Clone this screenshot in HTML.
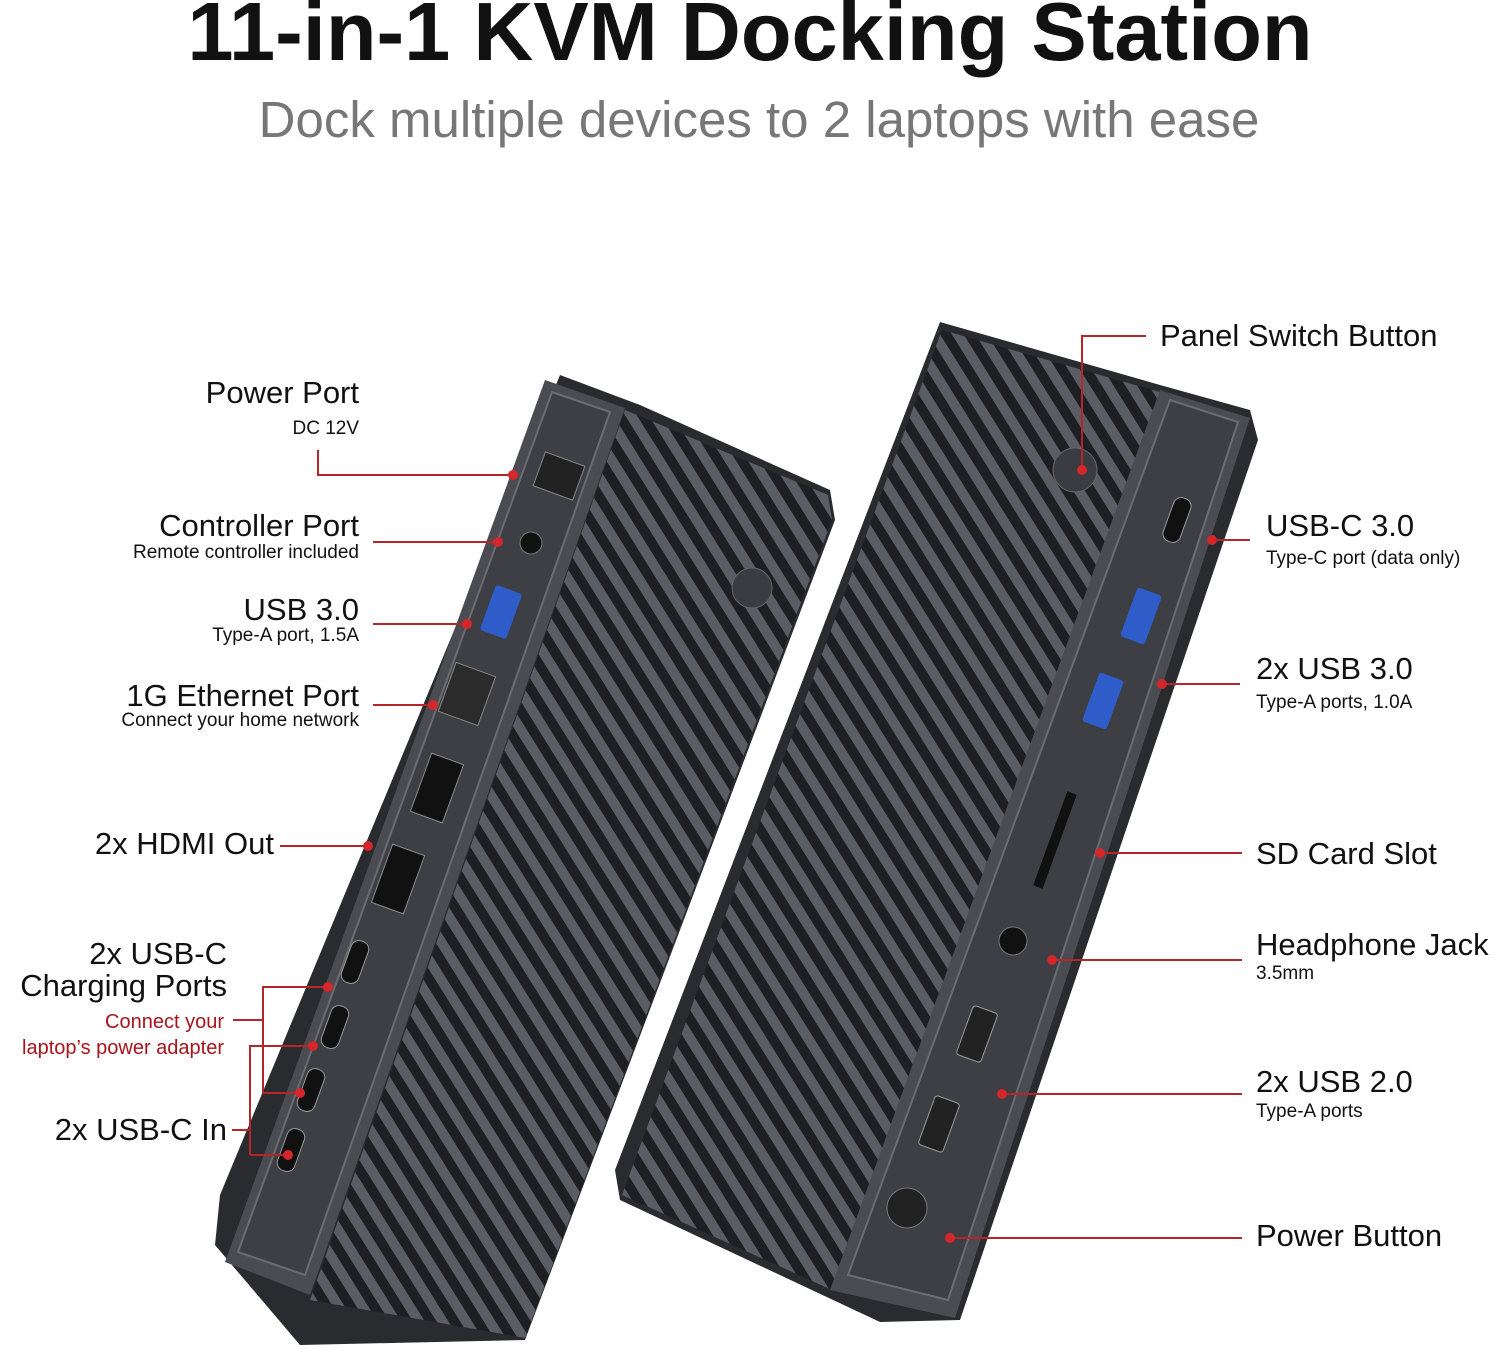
<!DOCTYPE html>
<html><head><meta charset="utf-8"><style>
html,body{margin:0;padding:0;background:#fff;}
body{width:1500px;height:1349px;position:relative;overflow:hidden;font-family:"Liberation Sans",sans-serif;}
.t{position:absolute;white-space:nowrap;color:#111;}
.L{font-size:31px;}
.s{font-size:19px;}
.r{text-align:right;}
</style></head><body>
<svg width="1500" height="1349" style="position:absolute;left:0;top:0">
<defs>
<pattern id="g" patternUnits="userSpaceOnUse" width="20" height="20" patternTransform="rotate(-32)">
<rect width="20" height="20" fill="#5a5d64"/><rect width="10" height="20" fill="#1e1f23"/>
</pattern>
</defs>
<!-- left device -->
<polygon points="560,375 640,405 830,490 835,520 525,1340 300,1345 215,1245 220,1195" fill="#2a2b2f"/>
<polygon points="625,410 828,495 832,520 525,1338 310,1300" fill="url(#g)"/>
<polygon points="545,380 625,408 310,1295 225,1262" fill="#4a4c52"/>
<polygon points="552,392 610,412 305,1275 238,1252" fill="#3d3f44" stroke="#6a6c72" stroke-width="2"/>
<rect x="538" y="458" width="42" height="36" fill="#222" stroke="#888" transform="rotate(20 559 476)"/>
<circle cx="531" cy="543" r="11" fill="#111" stroke="#777"/>
<rect x="487" y="588" width="28" height="48" rx="3" fill="#2e5cc8" transform="rotate(20 501 612)"/>
<rect x="446" y="668" width="42" height="52" fill="#2b2b2b" stroke="#888" transform="rotate(20 467 694)"/>
<rect x="420" y="757" width="34" height="62" fill="#111" stroke="#888" transform="rotate(20 437 788)"/>
<rect x="381" y="848" width="34" height="62" fill="#111" stroke="#888" transform="rotate(20 398 879)"/>
<rect x="346" y="940" width="18" height="44" rx="8" fill="#111" stroke="#999" transform="rotate(20 355 962)"/>
<rect x="326" y="1005" width="18" height="44" rx="8" fill="#111" stroke="#999" transform="rotate(20 335 1027)"/>
<rect x="302" y="1068" width="18" height="44" rx="8" fill="#111" stroke="#999" transform="rotate(20 311 1090)"/>
<rect x="282" y="1128" width="18" height="44" rx="8" fill="#111" stroke="#999" transform="rotate(20 291 1150)"/>
<circle cx="752" cy="588" r="20" fill="#3a3c41" stroke="#666"/>
<!-- right device -->
<polygon points="940,322 1160,385 1250,410 1258,440 960,1320 880,1322 620,1200 615,1170" fill="#2a2b2f"/>
<polygon points="942,330 1160,392 832,1290 622,1195" fill="url(#g)"/>
<polygon points="1160,390 1250,418 955,1318 830,1290" fill="#4a4c52"/>
<polygon points="1170,400 1238,422 948,1300 848,1275" fill="#3d3f44" stroke="#6a6c72" stroke-width="2"/>
<circle cx="1075" cy="470" r="22" fill="#3a3c41" stroke="#666"/>
<rect x="1168" y="497" width="18" height="46" rx="8" fill="#111" stroke="#999" transform="rotate(20 1177 520)"/>
<rect x="1128" y="590" width="26" height="52" rx="3" fill="#2e5cc8" transform="rotate(20 1141 616)"/>
<rect x="1090" y="675" width="26" height="52" rx="3" fill="#2e5cc8" transform="rotate(20 1103 701)"/>
<rect x="1050" y="790" width="10" height="100" fill="#111" transform="rotate(20 1055 840)"/>
<circle cx="1013" cy="941" r="14" fill="#111" stroke="#777"/>
<rect x="964" y="1008" width="26" height="52" rx="3" fill="#222" stroke="#999" transform="rotate(20 977 1034)"/>
<rect x="926" y="1098" width="26" height="52" rx="3" fill="#222" stroke="#999" transform="rotate(20 939 1124)"/>
<circle cx="907" cy="1208" r="20" fill="#222" stroke="#777"/>
<!-- leader lines -->
<g stroke="#b3262b" stroke-width="2" fill="none">
<polyline points="318,450 318,475 513,475"/>
<line x1="373" y1="542" x2="498" y2="542"/>
<line x1="373" y1="624" x2="467" y2="624"/>
<line x1="373" y1="705" x2="433" y2="705"/>
<line x1="280" y1="846" x2="368" y2="846"/>
<polyline points="263,1093 263,987 328,987"/>
<polyline points="233,1020 263,1020"/>
<polyline points="250,1155 250,1046 313,1046"/>
<polyline points="263,1093 300,1093"/>
<line x1="232" y1="1130" x2="250" y2="1130"/>
<line x1="250" y1="1155" x2="288" y2="1155"/>
<polyline points="1146,336 1082,336 1082,470"/>
<line x1="1212" y1="540" x2="1250" y2="540"/>
<line x1="1162" y1="684" x2="1240" y2="684"/>
<line x1="1100" y1="853" x2="1242" y2="853"/>
<line x1="1052" y1="960" x2="1242" y2="960"/>
<line x1="1002" y1="1094" x2="1242" y2="1094"/>
<line x1="950" y1="1238" x2="1242" y2="1238"/>
</g>
<g fill="#d4262b">
<circle cx="513" cy="475" r="5"/><circle cx="498" cy="542" r="5"/><circle cx="467" cy="624" r="5"/>
<circle cx="433" cy="705" r="5"/><circle cx="368" cy="846" r="5"/><circle cx="328" cy="987" r="5"/>
<circle cx="313" cy="1046" r="5"/><circle cx="300" cy="1093" r="5"/><circle cx="288" cy="1155" r="5"/>
<circle cx="1082" cy="470" r="5"/><circle cx="1212" cy="540" r="5"/><circle cx="1162" cy="684" r="5"/>
<circle cx="1100" cy="853" r="5"/><circle cx="1052" cy="960" r="5"/><circle cx="1002" cy="1094" r="5"/>
<circle cx="950" cy="1238" r="5"/>
</g>
</svg>
<div class="t" style="left:0;width:1500px;text-align:center;top:-16px;font-size:83px;font-weight:bold;">11-in-1 KVM Docking Station</div>
<div class="t" style="left:0;width:1518px;text-align:center;top:90px;font-size:51px;color:#777;">Dock multiple devices to 2 laptops with ease</div>

<div class="t L r" style="right:1141px;top:375px">Power Port</div>
<div class="t s r" style="right:1141px;top:418px">DC 12V</div>
<div class="t L r" style="right:1141px;top:508px">Controller Port</div>
<div class="t s r" style="right:1141px;top:542px">Remote controller included</div>
<div class="t L r" style="right:1141px;top:592px">USB 3.0</div>
<div class="t s r" style="right:1141px;top:625px">Type-A port, 1.5A</div>
<div class="t L r" style="right:1141px;top:678px">1G Ethernet Port</div>
<div class="t s r" style="right:1141px;top:710px">Connect your home network</div>
<div class="t L r" style="right:1226px;top:826px">2x HDMI Out</div>
<div class="t L r" style="right:1273px;top:938px;line-height:32px">2x USB-C<br>Charging Ports</div>
<div class="t s r" style="right:1276px;top:1009px;color:#a8141c;font-size:20px;line-height:26px">Connect your<br>laptop’s power adapter</div>
<div class="t L r" style="right:1273px;top:1112px">2x USB-C In</div>

<div class="t L" style="left:1160px;top:318px">Panel Switch Button</div>
<div class="t L" style="left:1266px;top:508px">USB-C 3.0</div>
<div class="t s" style="left:1266px;top:548px">Type-C port (data only)</div>
<div class="t L" style="left:1256px;top:651px">2x USB 3.0</div>
<div class="t s" style="left:1256px;top:692px">Type-A ports, 1.0A</div>
<div class="t L" style="left:1256px;top:836px">SD Card Slot</div>
<div class="t L" style="left:1256px;top:927px">Headphone Jack</div>
<div class="t s" style="left:1256px;top:963px">3.5mm</div>
<div class="t L" style="left:1256px;top:1064px">2x USB 2.0</div>
<div class="t s" style="left:1256px;top:1101px">Type-A ports</div>
<div class="t L" style="left:1256px;top:1218px">Power Button</div>
</body></html>
